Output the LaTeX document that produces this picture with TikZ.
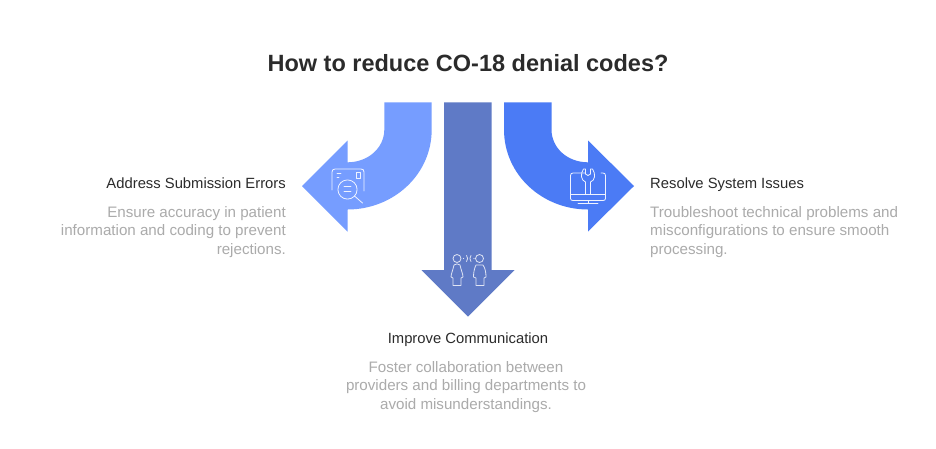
\documentclass[tikz,border=0pt]{standalone}
\usepackage{fontspec}
\setmainfont{Liberation Sans}
\definecolor{leftc}{HTML}{769DFF}
\definecolor{midc}{HTML}{5F7AC6}
\definecolor{rightc}{HTML}{4B7BF5}
\definecolor{headc}{HTML}{2B2B2B}
\definecolor{bodyc}{HTML}{ABABAB}
\tikzset{
  titletext/.style={inner sep=0,font=\fontsize{23.5}{28}\selectfont\bfseries,text=headc},
  headtext/.style={inner sep=0,font=\fontsize{14.8}{18}\selectfont,text=headc},
  bodytext/.style={inner sep=0,font=\fontsize{15.15}{18.3}\selectfont,text=bodyc},
  icon/.style={draw=white!88!leftc,line width=0.8pt,fill=none,line cap=round,line join=round}
}
\begin{document}
\begin{tikzpicture}[x=1pt,y=-1pt]
\useasboundingbox (0,0) rectangle (936,448);
\fill[white] (0,0) rectangle (936,448);
% left arrow
\fill[leftc] (384.3,102.3) -- (431.7,102.3) -- (431.7,129.5)
  .. controls (431.7,175) and (393,209.5) .. (347.5,209.5)
  -- (347.5,231.5) -- (302,186) -- (347.5,140.5) -- (347.5,162.3)
  .. controls (368,162.3) and (384.3,148) .. (384.3,129.5) -- cycle;
% right arrow
\fill[rightc] (551.5,102.3) -- (504,102.3) -- (504,129.5)
  .. controls (504,175) and (542.5,209.5) .. (588,209.5)
  -- (588,231.5) -- (634,186) -- (588,140.5) -- (588,162.3)
  .. controls (567.5,162.3) and (551.5,148) .. (551.5,129.5) -- cycle;
% middle arrow
\fill[midc] (444,102.3) -- (491.6,102.3) -- (491.6,270) -- (514.5,270) -- (468,316.5) -- (421.5,270) -- (444,270) -- cycle;
% left icon
\begin{scope}[icon]
\draw (332,190) -- (332,172) .. controls (332,170) and (333,169) .. (335,169) -- (361,169) .. controls (363,169) and (364,170) .. (364,172) -- (364,191);
\draw (337,173) -- (341,173);
\draw (337,177) -- (339,177);
\draw (356,172.5) rectangle (360,178.5);
\draw (347.5,189.5) circle (9.6);
\draw (344,186.5) -- (351,186.5);
\draw (344,191.5) -- (351,191.5);
\draw (354.5,196) -- (362.5,203);
\end{scope}
% right icon
\begin{scope}[icon]
\draw (585,173) -- (573,173) .. controls (571.5,173) and (570.5,174) .. (570.5,175.5) -- (570.5,198.5) .. controls (570.5,200) and (571.5,200.5) .. (573,200.5) -- (603,200.5) .. controls (604.5,200.5) and (605.5,200) .. (605.5,198.5) -- (605.5,175.5) .. controls (605.5,174) and (604.5,173) .. (603,173) -- (601,173);
\draw (570.5,194.5) -- (605.5,194.5);
\draw (585.5,194.5) -- (585.5,182) .. controls (581,180.5) and (580,174) .. (583.5,169) -- (585.5,169) -- (585.5,174) .. controls (586.5,176) and (589.5,176) .. (590.5,174) -- (590.5,169) -- (592.5,169) .. controls (596,174) and (595,180.5) .. (590.5,182) -- (590.5,194.5);
\draw (588,200.5) -- (588,203.5);
\draw (578,203.5) -- (598,203.5);
\end{scope}
% middle icon
\begin{scope}[icon,draw=white!80!midc]
\draw (457,258.5) circle (4);
\draw (479.5,258.5) circle (4);
\draw (454,265) .. controls (456,263.5) and (458,263.5) .. (460,265) .. controls (461,270) and (463,274) .. (463,277) -- (461,278) -- (461,285.5) -- (453,285.5) -- (453,278) -- (451,277) .. controls (451,274) and (453,270) .. (454,265) -- cycle;
\draw (476,265) -- (483,265) .. controls (485,268) and (486,272) .. (486,277) -- (484,278) -- (484,285.5) -- (476,285.5) -- (476,278) -- (473.5,277) .. controls (473.5,272) and (474.5,268) .. (476,265) -- cycle;
\draw (466.5,255.5) .. controls (468,257.5) and (468,259.5) .. (466.5,261.5);
\draw (471,255.5) .. controls (469.5,257.5) and (469.5,259.5) .. (471,261.5);
\fill[white!80!midc] (463.5,258.5) circle (0.7) (474,258.5) circle (0.7);
\end{scope}
% texts
\node[titletext,anchor=base] (title) at (468,71) {How to reduce CO-18 denial codes?};
\node[headtext,anchor=base east] (lefthead) at (286,188) {Address Submission Errors};
\node[bodytext,anchor=north east,align=right] (leftbody) at (286,206.5) {Ensure accuracy in patient\\information and coding to prevent\\rejections.};
\node[headtext,anchor=base west] (righthead) at (650,188) {Resolve System Issues};
\node[bodytext,anchor=north west,align=left] (rightbody) at (650,206.5) {Troubleshoot technical problems and\\misconfigurations to ensure smooth\\processing.};
\node[headtext,anchor=base] (midhead) at (468,343) {Improve Communication};
\node[bodytext,anchor=north,align=center] (midbody) at (466,361.5) {Foster collaboration between\\providers and billing departments to\\avoid misunderstandings.};
\end{tikzpicture}
\end{document}
